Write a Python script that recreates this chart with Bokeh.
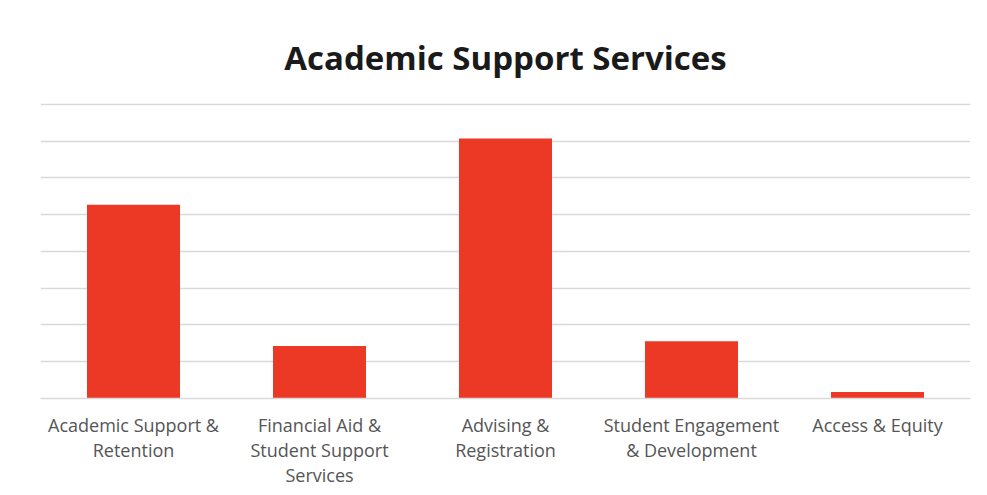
from bokeh.plotting import figure
from bokeh.models import Range1d, FixedTicker
from bokeh.embed import file_html
from bokeh.resources import INLINE

categories = ["Academic Support &\nRetention", "Financial Aid &\nStudent Support\nServices",
              "Advising &\nRegistration", "Student Engagement\n& Development", "Access & Equity"]
values = [5.27, 1.43, 7.07, 1.56, 0.18]
grid_ticks = [0, 1, 2, 3, 4, 5, 6, 7, 8]

p = figure(x_range=categories, y_range=Range1d(0, 8.05), width=975, height=490,
           output_backend="svg", toolbar_location=None, title="Academic Support Services",
           min_border_left=40, min_border_right=5, min_border_top=102, min_border_bottom=92)

p.vbar(x=categories, top=values, width=0.5, fill_color="#EC3925", line_color=None)

p.title.align = "center"
p.title.text_font = "Open Sans"
p.title.text_font_style = "bold"
p.title.text_font_size = "33px"
p.title.text_color = "#1a1a1a"
p.title.standoff = 45

p.outline_line_color = None
p.yaxis.visible = False
p.yaxis.ticker = FixedTicker(ticks=grid_ticks)
p.ygrid.ticker = FixedTicker(ticks=grid_ticks)
p.ygrid.grid_line_color = "#d9d9d9"
p.ygrid.grid_line_width = 1.5
p.xgrid.grid_line_color = None

p.xaxis.axis_line_color = "#d9d9d9"
p.xaxis.axis_line_width = 1.5
p.xaxis.major_tick_line_color = None
p.xaxis.minor_tick_line_color = None
p.xaxis.major_label_text_font = "Open Sans"
p.xaxis.major_label_text_font_size = "18px"
p.xaxis.major_label_text_color = "#555555"
p.xaxis.major_label_text_line_height = 1.06
p.xaxis.major_label_standoff = 8

open("out.html", "w").write(file_html(p, INLINE))
